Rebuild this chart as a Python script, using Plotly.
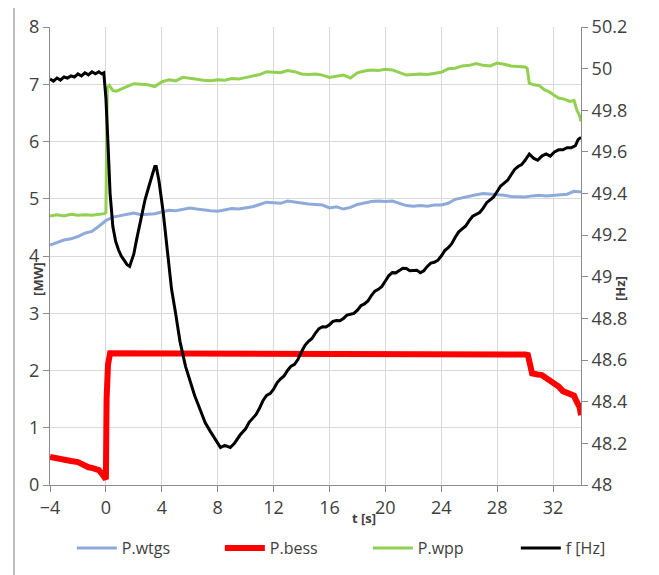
import plotly.graph_objects as go

# ---------------- data ----------------
x_ticks = [-4, 0, 4, 8, 12, 16, 20, 24, 28, 32]
y_ticks = [0, 1, 2, 3, 4, 5, 6, 7, 8]
y2_ticks = [48, 48.2, 48.4, 48.6, 48.8, 49, 49.2, 49.4, 49.6, 49.8, 50, 50.2]
y2_labels = ["48", "48.2", "48.4", "48.6", "48.8", "49", "49.2", "49.4", "49.6", "49.8", "50", "50.2"]

t_wtgs = [-4, -3.5, -3, -2.5, -2, -1.5, -1, -0.5, 0, 0.5,
          1, 1.5, 2, 2.5, 3, 3.5, 4, 4.5, 5, 5.5,
          6, 6.5, 7, 7.5, 8, 8.5, 9, 9.5, 10, 10.5,
          11, 11.5, 12, 12.5, 13, 13.5, 14, 14.5, 15, 15.5,
          16, 16.5, 17, 17.5, 18, 18.5, 19, 19.5, 20, 20.5,
          21, 21.5, 22, 22.5, 23, 23.5, 24, 24.5, 25, 25.5,
          26, 26.5, 27, 27.5, 28, 28.5, 29, 29.5, 30, 30.5,
          31, 31.5, 32, 32.5, 33, 33.5, 34]
p_wtgs = [4.19, 4.24, 4.28, 4.30, 4.34, 4.40, 4.43, 4.52, 4.62, 4.68,
          4.70, 4.73, 4.75, 4.72, 4.73, 4.74, 4.77, 4.80, 4.79, 4.81,
          4.84, 4.82, 4.80, 4.79, 4.78, 4.81, 4.83, 4.82, 4.84, 4.86,
          4.90, 4.94, 4.93, 4.92, 4.96, 4.94, 4.92, 4.91, 4.90, 4.89,
          4.84, 4.86, 4.82, 4.85, 4.90, 4.93, 4.95, 4.96, 4.95, 4.96,
          4.92, 4.88, 4.87, 4.88, 4.87, 4.89, 4.89, 4.92, 4.99, 5.02,
          5.05, 5.07, 5.09, 5.08, 5.08, 5.06, 5.04, 5.03, 5.03, 5.05,
          5.06, 5.05, 5.06, 5.07, 5.08, 5.13, 5.12]

t_bess = [-4, -3.5, -3, -2.5, -2, -1.75, -1.5, -1.25, -1, -0.75,
          -0.5, -0.3, -0.1, 0.0, 0.05, 0.15, 0.3,
          0.5, 1, 1.5, 2, 2.5, 3, 3.5, 4, 4.5, 5,
          5.5, 6, 6.5, 7, 7.5, 8, 8.5, 9, 9.5, 10,
          10.5, 11, 11.5, 12, 12.5, 13, 13.5, 14, 14.5, 15,
          15.5, 16, 16.5, 17, 17.5, 18, 18.5, 19, 19.5, 20,
          20.5, 21, 21.5, 22, 22.5, 23, 23.5, 24, 24.5, 25,
          25.5, 26, 26.5, 27, 27.5, 28, 28.5, 29, 29.5, 30,
          30.2, 30.35, 30.5, 30.9, 31.2, 31.5, 31.8, 32.1, 32.4, 32.7,
          33.0, 33.3, 33.5, 33.7, 33.9, 34]
p_bess = [0.49, 0.46, 0.44, 0.42, 0.40, 0.37, 0.33, 0.31, 0.30, 0.29,
          0.26, 0.20, 0.13, 0.10, 1.50, 2.10, 2.30,
          2.30, 2.29, 2.30, 2.29, 2.28, 2.30, 2.29, 2.30, 2.29, 2.28,
          2.29, 2.30, 2.29, 2.28, 2.29, 2.30, 2.29, 2.28, 2.29, 2.29,
          2.30, 2.28, 2.29, 2.29, 2.28, 2.29, 2.30, 2.29, 2.28, 2.29,
          2.29, 2.30, 2.29, 2.28, 2.29, 2.30, 2.29, 2.29, 2.28, 2.29,
          2.29, 2.30, 2.29, 2.28, 2.29, 2.29, 2.30, 2.29, 2.28, 2.29,
          2.29, 2.30, 2.29, 2.29, 2.28, 2.29, 2.30, 2.29, 2.29, 2.28,
          2.27, 2.05, 1.95, 1.93, 1.92, 1.87, 1.82, 1.78, 1.72, 1.64,
          1.62, 1.58, 1.56, 1.45, 1.36, 1.22]

t_wpp = [-4, -3.5, -3, -2.5, -2, -1.5, -1, -0.5, -0.1, 0.0,
         0.1, 0.25, 0.5, 0.75, 1, 1.5, 2, 2.5, 3, 3.5,
         4, 4.5, 5, 5.5, 6, 6.5, 7, 7.5, 8, 8.5,
         9, 9.5, 10, 10.5, 11, 11.5, 12, 12.5, 13, 13.5,
         14, 14.5, 15, 15.5, 16, 16.5, 17, 17.5, 18, 18.5,
         19, 19.5, 20, 20.5, 21, 21.5, 22, 22.5, 23, 23.5,
         24, 24.5, 25, 25.5, 26, 26.5, 27, 27.5, 28, 28.5,
         29, 29.5, 30, 30.15, 30.3, 30.6, 31, 31.4, 31.7, 32,
         32.4, 32.8, 33.2, 33.5, 33.7, 33.9, 34]
p_wpp = [4.70, 4.72, 4.70, 4.73, 4.71, 4.72, 4.71, 4.73, 4.74, 4.76,
         6.94, 6.98, 6.89, 6.88, 6.91, 6.96, 7.01, 7.00, 6.99, 6.96,
         7.04, 7.08, 7.06, 7.12, 7.10, 7.09, 7.07, 7.06, 7.08, 7.07,
         7.10, 7.09, 7.12, 7.14, 7.17, 7.22, 7.21, 7.20, 7.24, 7.22,
         7.18, 7.17, 7.18, 7.16, 7.12, 7.14, 7.16, 7.11, 7.20, 7.23,
         7.25, 7.24, 7.26, 7.25, 7.20, 7.16, 7.17, 7.18, 7.17, 7.19,
         7.21, 7.27, 7.28, 7.32, 7.33, 7.36, 7.33, 7.32, 7.37, 7.35,
         7.32, 7.31, 7.30, 7.28, 7.02, 6.99, 6.98, 6.90, 6.87, 6.82,
         6.76, 6.74, 6.70, 6.72, 6.55, 6.45, 6.35]

t_f = [-4, -3.75, -3.5, -3.25, -3, -2.75, -2.5, -2.25, -2, -1.75,
       -1.5, -1.25, -1, -0.75, -0.5, -0.3, -0.15, 0.0, 0.15, 0.3,
       0.5, 0.7, 0.9, 1.1, 1.3, 1.5, 1.7, 1.85, 2.0, 2.2,
       2.5, 2.8, 3.1, 3.3, 3.5, 3.6, 3.8, 4.1, 4.45, 4.7,
       5.0, 5.3, 5.7, 6.0, 6.35, 6.7, 7.1, 7.45, 7.8, 8.2,
       8.5, 8.9, 9.2, 9.6,
       10.0, 10.25, 10.5, 10.75, 11.0, 11.25, 11.5, 11.75, 12.0, 12.25,
       12.5, 12.75, 13.0, 13.25, 13.5, 13.75, 14.0, 14.25, 14.5, 14.75,
       15.0, 15.25, 15.5, 15.75, 16.0, 16.25, 16.5, 16.75, 17.0, 17.25,
       17.5, 17.75, 18.0, 18.25, 18.5, 18.75, 19.0, 19.25, 19.5, 19.75,
       20.0, 20.25, 20.5, 20.75, 21.0, 21.25, 21.5, 21.75, 22.0, 22.25,
       22.5, 22.75, 23.0, 23.25, 23.5, 23.75, 24.0, 24.25, 24.5, 24.75,
       25.0, 25.25, 25.5, 25.75, 26.0, 26.25, 26.5, 26.75, 27.0, 27.25,
       27.5, 27.75, 28.0, 28.25, 28.5, 28.75, 29.0, 29.25, 29.5, 29.75,
       30.0, 30.3, 30.6, 30.9, 31.2, 31.5,
       31.8, 32.1, 32.4, 32.7, 33.0, 33.3, 33.6, 33.8, 34.0]
f_hz = [49.95, 49.94, 49.955, 49.945, 49.96, 49.955, 49.965, 49.96, 49.975, 49.965,
        49.98, 49.97, 49.985, 49.975, 49.985, 49.975, 49.98, 49.86, 49.64, 49.40,
        49.24, 49.17, 49.13, 49.10, 49.08, 49.06, 49.05, 49.08, 49.11, 49.18,
        49.27, 49.37, 49.44, 49.48, 49.53, 49.53, 49.46, 49.31, 49.08, 48.94,
        48.82, 48.69, 48.57, 48.50, 48.43, 48.37, 48.30, 48.26, 48.22, 48.18,
        48.19, 48.18, 48.20, 48.24,
        48.27, 48.301, 48.32, 48.339, 48.37, 48.406, 48.43, 48.439, 48.46, 48.491,
        48.51, 48.524, 48.55, 48.571, 48.58, 48.604, 48.64, 48.671, 48.69, 48.704,
        48.73, 48.751, 48.76, 48.759, 48.77, 48.786, 48.79, 48.789, 48.80, 48.816,
        48.82, 48.824, 48.84, 48.861, 48.87, 48.884, 48.91, 48.931, 48.94, 48.954,
        48.98, 49.006, 49.02, 49.019, 49.03, 49.041, 49.04, 49.029, 49.03, 49.031,
        49.02, 49.029, 49.05, 49.066, 49.07, 49.079, 49.10, 49.126, 49.14, 49.159,
        49.19, 49.216, 49.23, 49.244, 49.27, 49.291, 49.30, 49.309, 49.33, 49.356,
        49.37, 49.384, 49.41, 49.436, 49.45, 49.464, 49.49, 49.516, 49.53, 49.539,
        49.56, 49.59, 49.57, 49.56, 49.58, 49.59,
        49.58, 49.60, 49.61, 49.61, 49.62, 49.62, 49.63, 49.66, 49.67]

assert len(t_wtgs) == len(p_wtgs)
assert len(t_bess) == len(p_bess)
assert len(t_wpp) == len(p_wpp)
assert len(t_f) == len(f_hz)

# ---------------- figure ----------------
FONT = "Open Sans"
TXT = "#404040"
AXC = "#8c8c8c"
GRID = "#d9d9d9"

fig = go.Figure()
fig.add_trace(go.Scatter(x=t_wtgs, y=p_wtgs, name="P.wtgs", mode="lines", legendwidth=93,
                         line=dict(color="#8eaadb", width=3)))
fig.add_trace(go.Scatter(x=t_bess, y=p_bess, name="P.bess", mode="lines", legendwidth=93,
                         line=dict(color="#ff0000", width=6)))
fig.add_trace(go.Scatter(x=t_wpp, y=p_wpp, name="P.wpp", mode="lines", legendwidth=93,
                         line=dict(color="#92d050", width=3)))
fig.add_trace(go.Scatter(x=t_f, y=f_hz, name="f [Hz]", mode="lines", yaxis="y2", legendwidth=45,
                         line=dict(color="#000000", width=3)))

axis_common = dict(showline=True, linecolor=AXC, linewidth=1, ticks="outside",
                   ticklen=6, tickcolor=AXC, zeroline=False, automargin=False,
                   tickfont=dict(family=FONT, size=18, color=TXT))

fig.update_layout(
    width=651, height=567,
    margin=dict(l=42, r=78, t=19, b=90, autoexpand=False),
    plot_bgcolor="white", paper_bgcolor="white",
    font=dict(family=FONT, color=TXT),
    showlegend=True,
    xaxis=dict(range=[-4, 34], tickvals=x_ticks, showgrid=True, gridcolor=GRID,
               **axis_common),
    yaxis=dict(range=[0, 8], tickvals=y_ticks, showgrid=True, gridcolor=GRID,
               **axis_common),
    yaxis2=dict(range=[48, 50.2], tickvals=y2_ticks, ticktext=y2_labels,
                overlaying="y", side="right", showgrid=False, **axis_common),
    legend=dict(orientation="h", x=1.0656, xanchor="right", y=-0.1376, yanchor="middle",
                font=dict(family=FONT, size=16, color=TXT),
                itemwidth=40, bgcolor="rgba(0,0,0,0)"),
    annotations=[
        dict(text="<b>[MW]</b>", xref="paper", yref="paper", x=-0.0226, y=0.45,
             xanchor="center", yanchor="middle",
             textangle=-90, showarrow=False, font=dict(family=FONT, size=13, color=TXT)),
        dict(text="<b>[Hz]</b>", xref="paper", yref="paper", x=1.0734, y=0.43,
             xanchor="center", yanchor="middle",
             textangle=-90, showarrow=False, font=dict(family=FONT, size=13, color=TXT)),
        dict(text="<b>t [s]</b>", xref="paper", yref="paper", x=0.5913, y=-0.072,
             xanchor="center", yanchor="middle",
             showarrow=False, font=dict(family=FONT, size=13, color=TXT)),
    ],
    shapes=[
        dict(type="line", xref="paper", yref="paper", x0=-0.0678, x1=-0.0678,
             y0=1.048, y1=-0.2, line=dict(color="#a6a6a6", width=1.5)),
        dict(type="line", xref="paper", yref="paper", x0=1.1375, x1=1.1375,
             y0=1.048, y1=-0.2, line=dict(color="#a6a6a6", width=1.5)),
    ],
)

fig.write_html("out.html")
